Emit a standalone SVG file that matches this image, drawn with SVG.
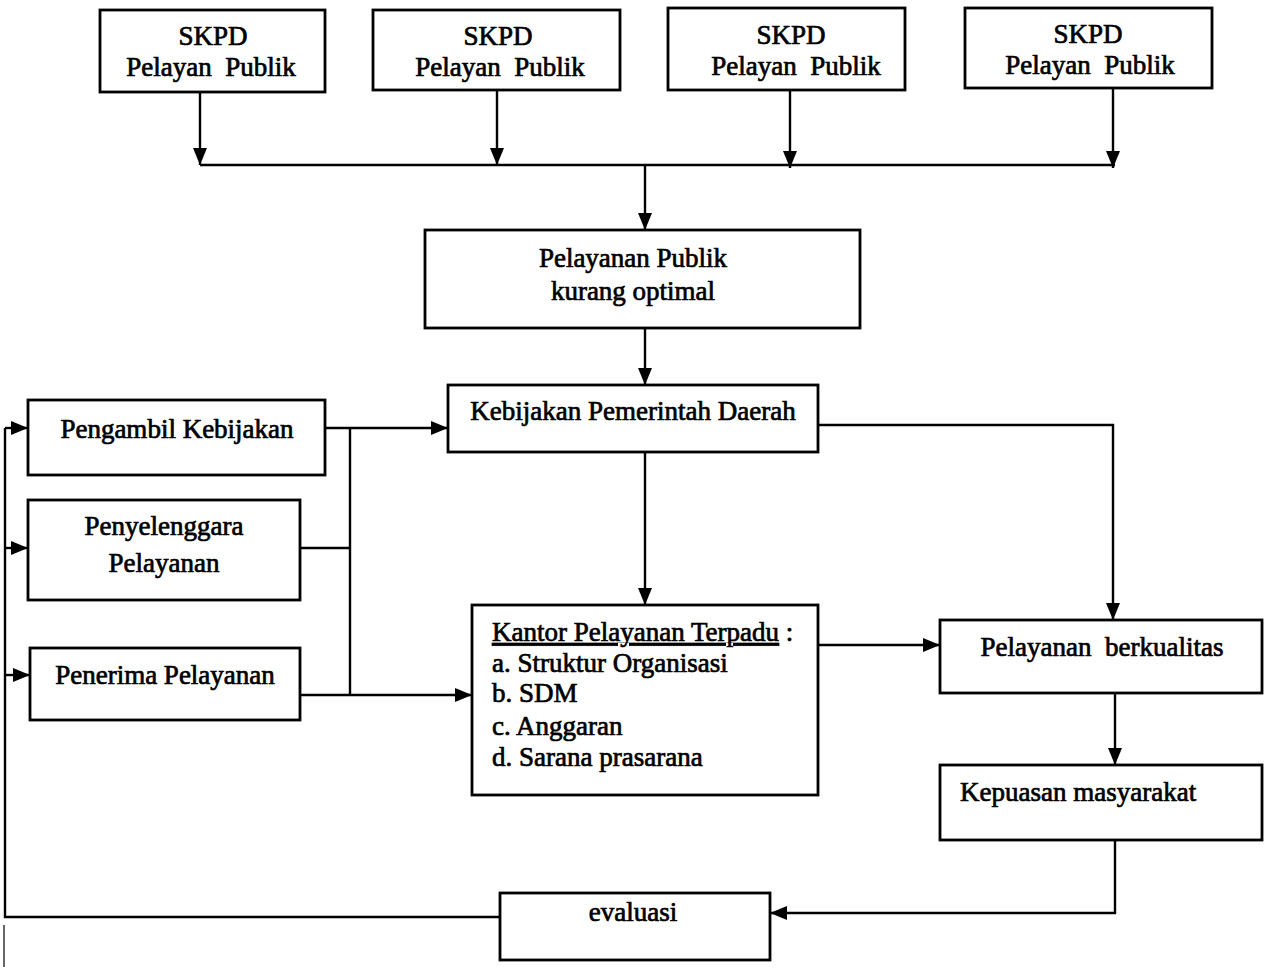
<svg xmlns="http://www.w3.org/2000/svg" width="1267" height="967" viewBox="0 0 1267 967">
<style>
.box{fill:#fff;stroke:#000;stroke-width:2.8}
.t{font-family:"Liberation Serif","Times New Roman",serif;font-size:27px;fill:#000;stroke:#000;stroke-width:0.7}
.c{text-anchor:middle}
.ln{fill:none;stroke:#000;stroke-width:2.4}
</style>
<defs>
<marker id="ah" markerUnits="userSpaceOnUse" markerWidth="18" markerHeight="18" refX="17" refY="9" orient="auto">
<path d="M0,2 L17,9 L0,16 Z" fill="#000"/>
</marker>
</defs>
<rect width="1267" height="967" fill="#fff"/>
<g id="connectors">
<line class="ln" x1="200" y1="92" x2="200" y2="165" marker-end="url(#ah)"/>
<line class="ln" x1="497" y1="90" x2="497" y2="165" marker-end="url(#ah)"/>
<line class="ln" x1="790" y1="90" x2="790" y2="168" marker-end="url(#ah)"/>
<line class="ln" x1="1113" y1="88" x2="1113" y2="168" marker-end="url(#ah)"/>
<line class="ln" x1="200" y1="165" x2="1115" y2="165"/>
<line class="ln" x1="645" y1="165" x2="645" y2="230" marker-end="url(#ah)"/>
<line class="ln" x1="645" y1="328" x2="645" y2="385" marker-end="url(#ah)"/>
<line class="ln" x1="325" y1="428" x2="448" y2="428" marker-end="url(#ah)"/>
<polyline class="ln" points="350,428 350,695"/>
<line class="ln" x1="300" y1="548" x2="350" y2="548"/>
<line class="ln" x1="300" y1="695" x2="472" y2="695" marker-end="url(#ah)"/>
<line class="ln" x1="645" y1="452" x2="645" y2="605" marker-end="url(#ah)"/>
<polyline class="ln" points="818,425 1113,425 1113,620" marker-end="url(#ah)"/>
<line class="ln" x1="818" y1="645" x2="940" y2="645" marker-end="url(#ah)"/>
<line class="ln" x1="1115" y1="693" x2="1115" y2="765" marker-end="url(#ah)"/>
<polyline class="ln" points="1115,840 1115,913 770,913" marker-end="url(#ah)"/>
<polyline class="ln" points="500,917 5,917 5,428"/>
<line class="ln" x1="5" y1="428" x2="28" y2="428" marker-end="url(#ah)"/>
<line class="ln" x1="5" y1="548" x2="28" y2="548" marker-end="url(#ah)"/>
<line class="ln" x1="5" y1="675" x2="30" y2="675" marker-end="url(#ah)"/>
<line x1="4" y1="925" x2="4" y2="967" stroke="#000" stroke-width="1.2"/>
</g>
<g id="skpd1"><rect class="box" x="100" y="10" width="225" height="82"/>
<text class="t c" x="213" y="45">SKPD</text><text class="t c" x="211" y="76" xml:space="preserve">Pelayan  Publik</text></g>
<g id="skpd2"><rect class="box" x="373" y="10" width="247" height="80"/>
<text class="t c" x="498" y="45">SKPD</text><text class="t c" x="500" y="76" xml:space="preserve">Pelayan  Publik</text></g>
<g id="skpd3"><rect class="box" x="668" y="8" width="237" height="82"/>
<text class="t c" x="791" y="44">SKPD</text><text class="t c" x="796" y="75" xml:space="preserve">Pelayan  Publik</text></g>
<g id="skpd4"><rect class="box" x="965" y="8" width="247" height="80"/>
<text class="t c" x="1088" y="43">SKPD</text><text class="t c" x="1090" y="74" xml:space="preserve">Pelayan  Publik</text></g>
<g id="kurang-optimal"><rect class="box" x="425" y="230" width="435" height="98"/>
<text class="t c" x="633" y="267">Pelayanan Publik</text><text class="t c" x="633" y="300">kurang optimal</text></g>
<g id="kebijakan-pemda"><rect class="box" x="448" y="385" width="370" height="67"/>
<text class="t c" x="633" y="420">Kebijakan Pemerintah Daerah</text></g>
<g id="pengambil"><rect class="box" x="28" y="400" width="297" height="75"/>
<text class="t c" x="177" y="438">Pengambil Kebijakan</text></g>
<g id="penyelenggara"><rect class="box" x="28" y="500" width="272" height="100"/>
<text class="t c" x="164" y="535">Penyelenggara</text><text class="t c" x="164" y="572">Pelayanan</text></g>
<g id="penerima"><rect class="box" x="30" y="648" width="270" height="72"/>
<text class="t c" x="165" y="684">Penerima Pelayanan</text></g>
<g id="kantor"><rect class="box" x="472" y="605" width="346" height="190"/>
<text class="t" x="492" y="641"><tspan text-decoration="underline">Kantor Pelayanan Terpadu</tspan> :</text>
<text class="t" x="492" y="672">a. Struktur Organisasi</text>
<text class="t" x="492" y="702">b. SDM</text>
<text class="t" x="492" y="735">c. Anggaran</text>
<text class="t" x="492" y="766">d. Sarana prasarana</text></g>
<g id="berkualitas"><rect class="box" x="940" y="620" width="322" height="73"/>
<text class="t c" x="1102" y="656" xml:space="preserve">Pelayanan  berkualitas</text></g>
<g id="kepuasan"><rect class="box" x="940" y="765" width="322" height="75"/>
<text class="t" x="960" y="801">Kepuasan masyarakat</text></g>
<g id="evaluasi"><rect class="box" x="500" y="893" width="270" height="67"/>
<text class="t c" x="633" y="921">evaluasi</text></g>
</svg>
